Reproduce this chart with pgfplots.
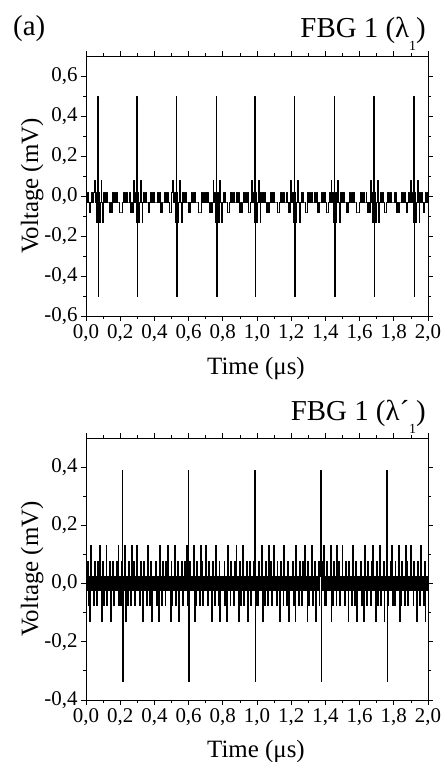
\documentclass[border=0pt]{standalone}
\usepackage{fontspec}
\setmainfont{Liberation Serif}
\usepackage{pgfplots}
\pgfplotsset{compat=1.18}

\newcommand{\tickfont}{\fontsize{21}{21}\selectfont}
\newcommand{\labfont}{\fontsize{25}{25}\selectfont}
\newcommand{\titfont}{\fontsize{29}{29}\selectfont}
\newcommand{\subone}{\raisebox{-0.42em}{\fontsize{14}{14}\selectfont 1}}

\pgfplotsset{
  scopepanel/.style={
    anchor=south west, scale only axis, width=342bp,
    xmin=0, xmax=2.0,
    axis line style={line width=0.9bp},
    tick align=outside,
    major tick length=5bp, minor tick length=3bp,
    every tick/.style={black, line width=0.8bp},
    xtick={0,0.2,0.4,0.6,0.8,1.0,1.2,1.4,1.6,1.8,2.0},
    xticklabels={{0,0},{0,2},{0,4},{0,6},{0,8},{1,0},{1,2},{1,4},{1,6},{1,8},{2,0}},
    minor x tick num=1, minor y tick num=1,
    xtick pos=both, ytick pos=both,
    tick label style={font=\tickfont},
    xticklabel pos=lower, yticklabel pos=left,
    clip=true,
  },
  sig/.style={black, line width=0.9bp, const plot mark mid, mark=none},
}

\begin{document}
\begin{tikzpicture}
\useasboundingbox (0,0) rectangle (443bp,762bp);

% ---- top panel: FBG 1 (lambda_1)
\begin{axis}[scopepanel, at={(86bp,446bp)}, height=260bp,
  ymin=-0.6, ymax=0.7,
  ytick={-0.6,-0.4,-0.2,0,0.2,0.4,0.6},
  yticklabels={{-0,6},{-0,4},{-0,2},{0,0},{0,2},{0,4},{0,6}}]
\addplot[sig] coordinates {
(0.000,0.02)(0.005,-0.03)(0.010,0.02)(0.015,-0.03)(0.020,-0.08)(0.025,-0.08)(0.030,-0.03)(0.035,0.02)(0.040,-0.03)(0.045,0.02)
(0.050,0.08)(0.055,-0.03)(0.060,0.02)(0.065,-0.13)(0.070,0.50)(0.071,-0.50)(0.075,0.02)(0.080,-0.13)(0.085,-0.03)(0.090,0.08)(0.095,-0.03)
(0.100,-0.13)(0.105,0.02)(0.110,-0.03)(0.115,0.02)(0.120,-0.03)(0.125,0.02)(0.130,-0.03)(0.135,-0.03)(0.140,-0.08)(0.145,-0.03)
(0.150,-0.08)(0.155,-0.03)(0.160,0.02)(0.165,-0.03)(0.170,0.02)(0.175,-0.03)(0.180,0.02)(0.185,-0.03)(0.190,-0.03)(0.195,-0.03)
(0.200,-0.08)(0.205,-0.08)(0.210,-0.08)(0.215,-0.03)(0.220,0.02)(0.225,-0.03)(0.230,0.02)(0.235,-0.03)(0.240,0.02)(0.245,-0.03)
(0.250,-0.03)(0.255,0.02)(0.260,-0.03)(0.265,-0.08)(0.270,-0.03)(0.275,-0.08)(0.280,0.08)(0.285,-0.03)(0.290,0.02)(0.295,-0.13)
(0.300,0.50)(0.301,-0.50)(0.305,0.02)(0.310,-0.13)(0.315,-0.03)(0.320,0.08)(0.325,-0.03)(0.330,-0.13)(0.335,-0.03)(0.340,0.02)(0.345,-0.03)
(0.350,0.02)(0.355,-0.03)(0.360,-0.03)(0.365,-0.08)(0.370,-0.08)(0.375,-0.03)(0.380,0.02)(0.385,-0.03)(0.390,0.02)(0.395,-0.03)
(0.400,0.02)(0.405,-0.03)(0.410,-0.03)(0.415,-0.03)(0.420,0.02)(0.425,-0.03)(0.430,0.02)(0.435,-0.08)(0.440,-0.03)(0.445,-0.08)
(0.450,-0.03)(0.455,-0.03)(0.460,0.02)(0.465,-0.03)(0.470,0.02)(0.475,-0.03)(0.480,0.02)(0.485,-0.03)(0.490,-0.08)(0.495,-0.08)
(0.500,-0.03)(0.505,0.02)(0.510,0.08)(0.515,-0.03)(0.520,0.02)(0.525,-0.13)(0.530,0.50)(0.531,-0.50)(0.535,0.02)(0.540,-0.13)(0.545,-0.03)
(0.550,0.08)(0.555,-0.03)(0.560,-0.13)(0.565,0.02)(0.570,-0.03)(0.575,0.02)(0.580,-0.03)(0.585,0.02)(0.590,-0.03)(0.595,-0.03)
(0.600,-0.08)(0.605,-0.03)(0.610,-0.08)(0.615,-0.03)(0.620,0.02)(0.625,-0.03)(0.630,0.02)(0.635,-0.03)(0.640,0.02)(0.645,-0.03)
(0.650,-0.03)(0.655,-0.03)(0.660,-0.08)(0.665,-0.08)(0.670,-0.08)(0.675,-0.03)(0.680,0.02)(0.685,-0.03)(0.690,0.02)(0.695,-0.03)
(0.700,0.02)(0.705,-0.03)(0.710,-0.03)(0.715,0.02)(0.720,-0.03)(0.725,-0.08)(0.730,-0.03)(0.735,-0.08)(0.740,-0.03)(0.745,0.08)
(0.750,-0.03)(0.755,0.02)(0.760,-0.13)(0.765,0.50)(0.766,-0.50)(0.770,0.02)(0.775,-0.13)(0.780,-0.03)(0.785,0.08)(0.790,-0.03)(0.795,-0.13)
(0.800,-0.03)(0.805,0.02)(0.810,-0.03)(0.815,0.02)(0.820,-0.03)(0.825,-0.03)(0.830,-0.08)(0.835,-0.08)(0.840,-0.03)(0.845,0.02)
(0.850,-0.03)(0.855,0.02)(0.860,-0.03)(0.865,0.02)(0.870,-0.03)(0.875,-0.03)(0.880,-0.03)(0.885,0.02)(0.890,-0.03)(0.895,0.02)
(0.900,-0.08)(0.905,-0.03)(0.910,-0.08)(0.915,-0.03)(0.920,-0.03)(0.925,0.02)(0.930,-0.03)(0.935,0.02)(0.940,-0.03)(0.945,0.02)
(0.950,-0.03)(0.955,-0.08)(0.960,-0.08)(0.965,-0.03)(0.970,0.08)(0.975,-0.03)(0.980,0.02)(0.985,-0.13)(0.990,0.50)(0.991,-0.50)(0.995,0.02)
(1.000,-0.13)(1.005,-0.03)(1.010,0.08)(1.015,-0.03)(1.020,-0.13)(1.025,0.02)(1.030,-0.03)(1.035,0.02)(1.040,-0.03)(1.045,0.02)
(1.050,-0.03)(1.055,-0.03)(1.060,-0.08)(1.065,-0.03)(1.070,-0.08)(1.075,-0.03)(1.080,0.02)(1.085,-0.03)(1.090,0.02)(1.095,-0.03)
(1.100,0.02)(1.105,-0.03)(1.110,-0.03)(1.115,-0.03)(1.120,-0.08)(1.125,-0.08)(1.130,-0.08)(1.135,-0.03)(1.140,0.02)(1.145,-0.03)
(1.150,0.02)(1.155,-0.03)(1.160,0.02)(1.165,-0.03)(1.170,-0.03)(1.175,0.02)(1.180,-0.03)(1.185,-0.08)(1.190,-0.03)(1.195,-0.08)
(1.200,0.08)(1.205,-0.03)(1.210,0.02)(1.215,-0.13)(1.220,0.50)(1.221,-0.50)(1.225,0.02)(1.230,-0.13)(1.235,-0.03)(1.240,0.08)(1.245,-0.03)
(1.250,-0.13)(1.255,-0.03)(1.260,0.02)(1.265,-0.03)(1.270,0.02)(1.275,-0.03)(1.280,-0.03)(1.285,-0.08)(1.290,-0.08)(1.295,-0.03)
(1.300,0.02)(1.305,-0.03)(1.310,0.02)(1.315,-0.03)(1.320,0.02)(1.325,-0.03)(1.330,-0.03)(1.335,-0.03)(1.340,0.02)(1.345,-0.03)
(1.350,0.02)(1.355,-0.08)(1.360,-0.03)(1.365,-0.08)(1.370,-0.03)(1.375,-0.03)(1.380,0.02)(1.385,-0.03)(1.390,0.02)(1.395,-0.03)
(1.400,0.02)(1.405,-0.03)(1.410,-0.08)(1.415,-0.08)(1.420,-0.03)(1.425,0.02)(1.430,-0.03)(1.435,0.08)(1.440,-0.03)(1.445,0.02)
(1.450,-0.13)(1.455,0.50)(1.456,-0.50)(1.460,0.02)(1.465,-0.13)(1.470,-0.03)(1.475,0.08)(1.480,-0.03)(1.485,-0.13)(1.490,0.02)(1.495,-0.03)
(1.500,0.02)(1.505,-0.03)(1.510,0.02)(1.515,-0.03)(1.520,-0.03)(1.525,-0.08)(1.530,-0.03)(1.535,-0.08)(1.540,-0.03)(1.545,0.02)
(1.550,-0.03)(1.555,0.02)(1.560,-0.03)(1.565,0.02)(1.570,-0.03)(1.575,-0.03)(1.580,-0.03)(1.585,-0.08)(1.590,-0.08)(1.595,-0.08)
(1.600,-0.03)(1.605,0.02)(1.610,-0.03)(1.615,0.02)(1.620,-0.03)(1.625,0.02)(1.630,-0.03)(1.635,-0.03)(1.640,0.02)(1.645,-0.03)
(1.650,-0.08)(1.655,-0.03)(1.660,-0.08)(1.665,0.08)(1.670,-0.03)(1.675,0.02)(1.680,-0.13)(1.685,0.50)(1.686,-0.50)(1.690,0.02)(1.695,-0.13)
(1.700,-0.03)(1.705,0.08)(1.710,-0.03)(1.715,-0.13)(1.720,-0.03)(1.725,0.02)(1.730,-0.03)(1.735,0.02)(1.740,-0.03)(1.745,-0.03)
(1.750,-0.08)(1.755,-0.08)(1.760,-0.03)(1.765,0.02)(1.770,-0.03)(1.775,0.02)(1.780,-0.03)(1.785,0.02)(1.790,-0.03)(1.795,-0.03)
(1.800,-0.03)(1.805,0.02)(1.810,-0.03)(1.815,0.02)(1.820,-0.08)(1.825,-0.03)(1.830,-0.08)(1.835,-0.03)(1.840,-0.03)(1.845,0.02)
(1.850,-0.03)(1.855,0.02)(1.860,-0.03)(1.865,0.02)(1.870,-0.03)(1.875,-0.08)(1.880,-0.08)(1.885,-0.03)(1.890,0.02)(1.895,-0.03)
(1.900,0.08)(1.905,-0.03)(1.910,0.02)(1.915,-0.13)(1.920,0.50)(1.921,-0.50)(1.925,0.02)(1.930,-0.13)(1.935,-0.03)(1.940,0.08)(1.945,-0.03)
(1.950,-0.13)(1.955,0.02)(1.960,-0.03)(1.965,0.02)(1.970,-0.03)(1.975,-0.08)(1.980,-0.03)(1.985,-0.03)(1.990,0.02)(1.995,-0.03)
(2.000,0.02)
};
\end{axis}

% ---- bottom panel: FBG 1 (lambda'_1)
\begin{axis}[scopepanel, at={(86bp,62bp)}, height=262bp,
  ymin=-0.4, ymax=0.5,
  ytick={-0.4,-0.2,0,0.2,0.4},
  yticklabels={{-0,4},{-0,2},{0,0},{0,2},{0,4}}]
\addplot[sig] coordinates {
(0.000,0.025)(0.005,-0.025)(0.010,0.075)(0.015,-0.075)(0.020,0.025)(0.025,-0.13)(0.030,0.13)(0.035,-0.025)(0.040,0.025)(0.045,-0.075)(0.050,0.075)(0.055,-0.025)(0.060,0.025)(0.065,-0.075)(0.070,0.075)(0.075,-0.025)(0.080,0.13)(0.085,-0.025)(0.090,0.025)(0.095,-0.13)
(0.100,0.075)(0.105,-0.075)(0.110,0.025)(0.115,-0.025)(0.120,0.13)(0.125,-0.075)(0.130,0.025)(0.135,-0.025)(0.140,0.075)(0.145,-0.13)(0.150,0.025)(0.155,-0.025)(0.160,0.075)(0.165,-0.075)(0.170,0.025)(0.175,-0.025)(0.180,0.075)(0.185,-0.025)(0.190,0.13)(0.195,-0.075)
(0.200,0.025)(0.205,-0.075)(0.210,0.075)(0.215,0.39)(0.216,-0.335)(0.220,0.025)(0.225,-0.025)(0.230,0.13)(0.235,-0.13)(0.240,0.025)(0.245,-0.075)(0.250,0.075)(0.255,-0.025)(0.260,0.025)(0.265,-0.075)(0.270,0.13)(0.275,-0.025)(0.280,0.075)(0.285,-0.075)(0.290,0.025)(0.295,-0.025)
(0.300,0.13)(0.305,-0.025)(0.310,0.025)(0.315,-0.075)(0.320,0.075)(0.325,-0.025)(0.330,0.025)(0.335,-0.13)(0.340,0.075)(0.345,-0.025)(0.350,0.025)(0.355,-0.075)(0.360,0.13)(0.365,-0.025)(0.370,0.025)(0.375,-0.075)(0.380,0.075)(0.385,-0.13)(0.390,0.025)(0.395,-0.025)
(0.400,0.025)(0.405,-0.025)(0.410,0.075)(0.415,-0.075)(0.420,0.025)(0.425,-0.13)(0.430,0.13)(0.435,-0.025)(0.440,0.025)(0.445,-0.075)(0.450,0.075)(0.455,-0.025)(0.460,0.025)(0.465,-0.075)(0.470,0.075)(0.475,-0.025)(0.480,0.13)(0.485,-0.025)(0.490,0.025)(0.495,-0.13)
(0.500,0.075)(0.505,-0.075)(0.510,0.025)(0.515,-0.025)(0.520,0.13)(0.525,-0.075)(0.530,0.025)(0.535,-0.025)(0.540,0.075)(0.545,-0.13)(0.550,0.025)(0.555,-0.025)(0.560,0.075)(0.565,-0.075)(0.570,0.025)(0.575,-0.025)(0.580,0.075)(0.585,-0.025)(0.590,0.13)(0.595,-0.075)
(0.600,0.39)(0.601,-0.335)(0.605,-0.075)(0.610,0.075)(0.615,-0.025)(0.620,0.025)(0.625,-0.025)(0.630,0.13)(0.635,-0.13)(0.640,0.025)(0.645,-0.075)(0.650,0.075)(0.655,-0.025)(0.660,0.025)(0.665,-0.075)(0.670,0.13)(0.675,-0.025)(0.680,0.075)(0.685,-0.075)(0.690,0.025)(0.695,-0.025)
(0.700,0.13)(0.705,-0.025)(0.710,0.025)(0.715,-0.075)(0.720,0.075)(0.725,-0.025)(0.730,0.025)(0.735,-0.13)(0.740,0.075)(0.745,-0.025)(0.750,0.025)(0.755,-0.075)(0.760,0.13)(0.765,-0.025)(0.770,0.025)(0.775,-0.075)(0.780,0.075)(0.785,-0.13)(0.790,0.025)(0.795,-0.025)
(0.800,0.025)(0.805,-0.025)(0.810,0.075)(0.815,-0.075)(0.820,0.025)(0.825,-0.13)(0.830,0.13)(0.835,-0.025)(0.840,0.025)(0.845,-0.075)(0.850,0.075)(0.855,-0.025)(0.860,0.025)(0.865,-0.075)(0.870,0.075)(0.875,-0.025)(0.880,0.13)(0.885,-0.025)(0.890,0.025)(0.895,-0.13)
(0.900,0.075)(0.905,-0.075)(0.910,0.025)(0.915,-0.025)(0.920,0.13)(0.925,-0.075)(0.930,0.025)(0.935,-0.025)(0.940,0.075)(0.945,-0.13)(0.950,0.025)(0.955,-0.025)(0.960,0.075)(0.965,-0.075)(0.970,0.025)(0.975,-0.025)(0.980,0.075)(0.985,-0.025)(0.990,0.39)(0.991,-0.335)(0.995,-0.075)
(1.000,0.025)(1.005,-0.075)(1.010,0.075)(1.015,-0.025)(1.020,0.025)(1.025,-0.025)(1.030,0.13)(1.035,-0.13)(1.040,0.025)(1.045,-0.075)(1.050,0.075)(1.055,-0.025)(1.060,0.025)(1.065,-0.075)(1.070,0.13)(1.075,-0.025)(1.080,0.075)(1.085,-0.075)(1.090,0.025)(1.095,-0.025)
(1.100,0.13)(1.105,-0.025)(1.110,0.025)(1.115,-0.075)(1.120,0.075)(1.125,-0.025)(1.130,0.025)(1.135,-0.13)(1.140,0.075)(1.145,-0.025)(1.150,0.025)(1.155,-0.075)(1.160,0.13)(1.165,-0.025)(1.170,0.025)(1.175,-0.075)(1.180,0.075)(1.185,-0.13)(1.190,0.025)(1.195,-0.025)
(1.200,0.025)(1.205,-0.025)(1.210,0.075)(1.215,-0.075)(1.220,0.025)(1.225,-0.13)(1.230,0.13)(1.235,-0.025)(1.240,0.025)(1.245,-0.075)(1.250,0.075)(1.255,-0.025)(1.260,0.025)(1.265,-0.075)(1.270,0.075)(1.275,-0.025)(1.280,0.13)(1.285,-0.025)(1.290,0.025)(1.295,-0.13)
(1.300,0.075)(1.305,-0.075)(1.310,0.025)(1.315,-0.025)(1.320,0.13)(1.325,-0.075)(1.330,0.025)(1.335,-0.025)(1.340,0.075)(1.345,-0.13)(1.350,0.025)(1.355,-0.025)(1.360,0.075)(1.365,-0.075)(1.370,0.025)(1.375,0.39)(1.376,-0.335)(1.380,0.075)(1.385,-0.025)(1.390,0.13)(1.395,-0.075)
(1.400,0.025)(1.405,-0.075)(1.410,0.075)(1.415,-0.025)(1.420,0.025)(1.425,-0.025)(1.430,0.13)(1.435,-0.13)(1.440,0.025)(1.445,-0.075)(1.450,0.075)(1.455,-0.025)(1.460,0.025)(1.465,-0.075)(1.470,0.13)(1.475,-0.025)(1.480,0.075)(1.485,-0.075)(1.490,0.025)(1.495,-0.025)
(1.500,0.13)(1.505,-0.025)(1.510,0.025)(1.515,-0.075)(1.520,0.075)(1.525,-0.025)(1.530,0.025)(1.535,-0.13)(1.540,0.075)(1.545,-0.025)(1.550,0.025)(1.555,-0.075)(1.560,0.13)(1.565,-0.025)(1.570,0.025)(1.575,-0.075)(1.580,0.075)(1.585,-0.13)(1.590,0.025)(1.595,-0.025)
(1.600,0.025)(1.605,-0.025)(1.610,0.075)(1.615,-0.075)(1.620,0.025)(1.625,-0.13)(1.630,0.13)(1.635,-0.025)(1.640,0.025)(1.645,-0.075)(1.650,0.075)(1.655,-0.025)(1.660,0.025)(1.665,-0.075)(1.670,0.075)(1.675,-0.025)(1.680,0.13)(1.685,-0.025)(1.690,0.025)(1.695,-0.13)
(1.700,0.075)(1.705,-0.075)(1.710,0.025)(1.715,-0.025)(1.720,0.13)(1.725,-0.075)(1.730,0.025)(1.735,-0.025)(1.740,0.075)(1.745,-0.13)(1.750,0.025)(1.755,-0.025)(1.760,0.39)(1.761,-0.335)(1.765,-0.075)(1.770,0.025)(1.775,-0.025)(1.780,0.075)(1.785,-0.025)(1.790,0.13)(1.795,-0.075)
(1.800,0.025)(1.805,-0.075)(1.810,0.075)(1.815,-0.025)(1.820,0.025)(1.825,-0.025)(1.830,0.13)(1.835,-0.13)(1.840,0.025)(1.845,-0.075)(1.850,0.075)(1.855,-0.025)(1.860,0.025)(1.865,-0.075)(1.870,0.13)(1.875,-0.025)(1.880,0.075)(1.885,-0.075)(1.890,0.025)(1.895,-0.025)
(1.900,0.13)(1.905,-0.025)(1.910,0.025)(1.915,-0.075)(1.920,0.075)(1.925,-0.025)(1.930,0.025)(1.935,-0.13)(1.940,0.075)(1.945,-0.025)(1.950,0.025)(1.955,-0.075)(1.960,0.13)(1.965,-0.025)(1.970,0.025)(1.975,-0.075)(1.980,0.075)(1.985,-0.13)(1.990,0.025)(1.995,-0.025)
(2.000,0.025)
};
\end{axis}

% ---- text
\node[anchor=base west, inner sep=0pt, font=\fontsize{29}{29}\selectfont] at (13bp,726bp) {(a)};
\node[anchor=base east, inner sep=0pt, font=\titfont] at (426bp,724bp) {FBG 1 (λ\subone)};
\node[anchor=base east, inner sep=0pt, font=\titfont] at (426bp,341bp) {FBG 1 (λ´\subone)};
\node[anchor=base, inner sep=0pt, font=\labfont] at (256bp,387bp) {Time (μs)};
\node[anchor=base, inner sep=0pt, font=\labfont] at (256bp,5bp) {Time (μs)};
\node[anchor=base, rotate=90, inner sep=0pt, font=\labfont] at (38bp,576bp) {Voltage (mV)};
\node[anchor=base, rotate=90, inner sep=0pt, font=\labfont] at (38bp,193bp) {Voltage (mV)};
\end{tikzpicture}
\end{document}
